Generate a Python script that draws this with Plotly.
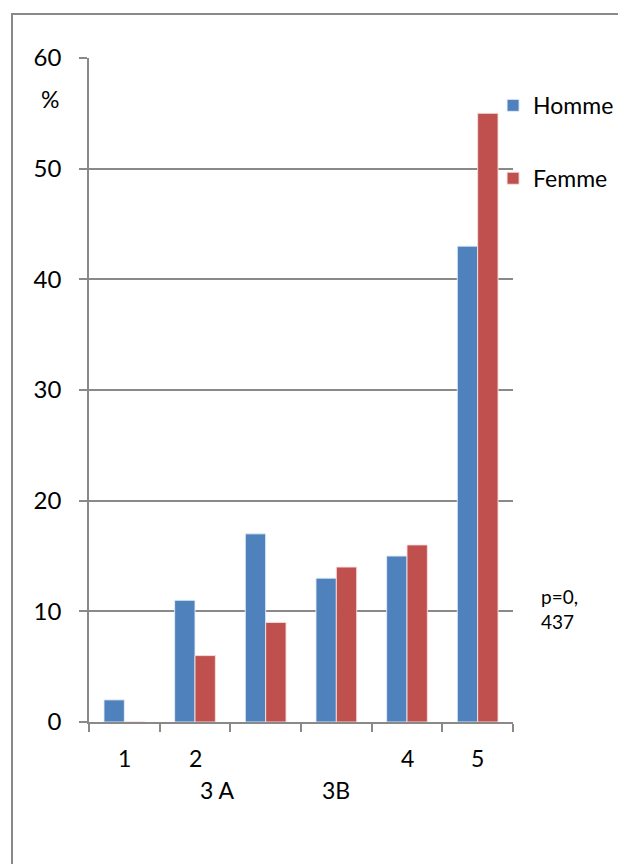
import plotly.graph_objects as go

# Survey results by category, percentage of each sex
categories = ["1", "2", "3 A", "3B", "4", "5"]
homme = [2, 11, 17, 13, 15, 43]
femme = [0, 6, 9, 14, 16, 55]
y_ticks = [0, 10, 20, 30, 40, 50, 60]
p_note = "p=0,<br>437"

BLUE = "#4F81BD"
RED = "#C0504D"
GRID = "#898989"
FONT = "Lato"
FS = 24

x_idx = list(range(len(categories)))

fig = go.Figure()
fig.add_trace(go.Bar(
    x=x_idx, y=homme, name="Homme", legendgroup="h",
    marker=dict(color=BLUE, line=dict(color="rgba(230,238,248,0.9)", width=1)),
))
fig.add_trace(go.Bar(
    x=x_idx, y=femme, name="Femme", legendgroup="f",
    marker=dict(color=RED, line=dict(color="rgba(245,225,225,0.9)", width=1)),
))

# category labels under the axis: two staggered rows
row1 = {0: 0.0, 1: 1.0, 4: 4.0, 5: 5.0}
row2 = {2: 1.31, 3: 3.0}
annotations = []
for i, xpos in row1.items():
    annotations.append(dict(x=xpos, y=0, xref="x", yref="y", text=categories[i],
                            showarrow=False, yanchor="middle", yshift=-36,
                            font=dict(family=FONT, size=FS - 1, color="black")))
for i, xpos in row2.items():
    annotations.append(dict(x=xpos, y=0, xref="x", yref="y", text=categories[i],
                            showarrow=False, yanchor="middle", yshift=-68,
                            font=dict(family=FONT, size=FS - 1, color="black")))

# unit label under the top tick
annotations.append(dict(x=-0.093, y=0.938, xref="paper", yref="paper", text="%",
                        showarrow=False, xanchor="center", yanchor="middle",
                        font=dict(family=FONT, size=FS - 1, color="black")))
# significance note at right
annotations.append(dict(x=1.062, y=0.17, xref="paper", yref="paper", text=p_note,
                        showarrow=False, xanchor="left", yanchor="middle", align="left",
                        font=dict(family=FONT, size=19, color="black")))

fig.update_layout(
    width=618, height=864,
    margin=dict(l=89, r=105, t=58, b=142, autoexpand=False),
    paper_bgcolor="white", plot_bgcolor="white",
    barmode="group", bargap=0.424, bargroupgap=0,
    font=dict(family=FONT, size=FS, color="black"),
    annotations=annotations,
    legend=dict(x=0.953, y=0.961, xanchor="left", yanchor="top",
                traceorder="grouped", tracegroupgap=40,
                font=dict(family=FONT, size=23, color="black"),
                bgcolor="rgba(0,0,0,0)"),
    shapes=[dict(type="rect", xref="paper", yref="paper",
                 x0=-0.1816, x1=1.6, y0=-0.5, y1=1.0663,
                 line=dict(color=GRID, width=2), layer="below")],
)

fig.update_xaxes(
    range=[-0.5, 5.5], tickvals=[i - 0.5 for i in range(len(categories) + 1)],
    ticktext=[""] * (len(categories) + 1), ticks="outside", ticklen=8,
    tickcolor=GRID, tickwidth=1.5, showline=True, linecolor=GRID, linewidth=1.5,
    showgrid=False, zeroline=False, fixedrange=True,
)
fig.update_yaxes(
    range=[0, 60], tickvals=y_ticks, ticks="outside", ticklen=8, tickcolor=GRID,
    tickwidth=1.5, showline=True, linecolor=GRID, linewidth=1.5,
    showgrid=True, gridcolor=GRID, gridwidth=1.5, zeroline=False,
    ticklabelstandoff=13, tickfont=dict(family=FONT, size=FS, color="black"),
    fixedrange=True,
)

fig.write_html("out.html")
